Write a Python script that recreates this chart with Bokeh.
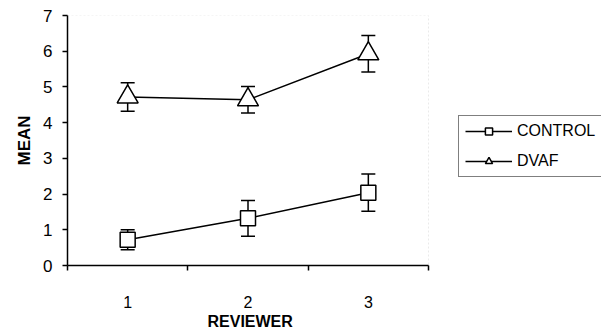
from bokeh.plotting import figure
from bokeh.models import (ColumnDataSource, Range1d, FixedTicker, Whisker, TeeHead,
                          Legend, LegendItem, BoxAnnotation, Title)
from bokeh.embed import file_html
from bokeh.resources import INLINE

reviewers = [1, 2, 3]
tick_labels = {1: "1", 2: "2", 3: "3"}
control_mean = [0.72, 1.32, 2.04]
control_err = [0.28, 0.50, 0.52]
dvaf_mean = [4.72, 4.64, 5.93]
dvaf_err = [0.40, 0.37, 0.51]

FONT = "Liberation Sans"

# plot area spans 0.5..3.5 over 361 px; frame extends right to hold the legend
px_per_unit = 361 / 3.0
x_end = 0.5 + (601 - 67) / px_per_unit

p = figure(width=601, height=333, output_backend="svg", toolbar_location=None,
           x_range=Range1d(0.5, x_end), y_range=Range1d(0, 7),
           min_border_left=67, min_border_right=0, min_border_top=15,
           min_border_bottom=68)
p.background_fill_color = "white"
p.border_fill_color = "white"
p.outline_line_color = None
p.xgrid.visible = False
p.ygrid.visible = False

box = BoxAnnotation(left=0.5, right=3.5, bottom=0, top=7, fill_alpha=0,
                    line_color="#b8b8b8", line_dash="2 2", line_width=1,
                    level="underlay")
p.add_layout(box)

# x axis
xa = p.xaxis[0]
xa.bounds = (0.5, 3.5)
xa.ticker = FixedTicker(ticks=reviewers, minor_ticks=[0.5, 1.5, 2.5, 3.5])
xa.major_label_overrides = tick_labels
xa.major_tick_out = 0
xa.major_tick_in = 0
xa.minor_tick_out = 5
xa.minor_tick_in = 0
xa.minor_tick_line_color = "black"
xa.minor_tick_line_width = 1.5
xa.axis_line_color = "black"
xa.axis_line_width = 1.5
xa.major_label_standoff = 25
xa.major_label_text_font = FONT
xa.major_label_text_font_size = "16px"
xa.major_label_text_color = "black"

xtitle = Title(text="REVIEWER", align="left", offset=140,
               text_font=FONT, text_font_style="bold", text_font_size="16px",
               text_color="black", standoff=0)
p.add_layout(xtitle, "below")

# y axis
ya = p.yaxis[0]
ya.ticker = FixedTicker(ticks=[0, 1, 2, 3, 4, 5, 6, 7], minor_ticks=[])
ya.major_tick_out = 5
ya.major_tick_in = 0
ya.major_tick_line_width = 1.5
ya.major_tick_line_color = "black"
ya.axis_line_color = "black"
ya.axis_line_width = 1.5
ya.major_label_standoff = 10
ya.major_label_text_font = FONT
ya.major_label_text_font_size = "17px"
ya.major_label_text_color = "black"
ya.axis_label = "MEAN"
ya.axis_label_text_font = FONT
ya.axis_label_text_font_style = "bold"
ya.axis_label_text_font_size = "17px"
ya.axis_label_standoff = 6
ya.axis_label_text_color = "black"

src_c = ColumnDataSource(dict(x=reviewers, y=control_mean,
                              lo=[m - e for m, e in zip(control_mean, control_err)],
                              hi=[m + e for m, e in zip(control_mean, control_err)]))
src_d = ColumnDataSource(dict(x=reviewers, y=dvaf_mean,
                              lo=[m - e for m, e in zip(dvaf_mean, dvaf_err)],
                              hi=[m + e for m, e in zip(dvaf_mean, dvaf_err)]))

for src in (src_c, src_d):
    w = Whisker(source=src, base="x", lower="lo", upper="hi",
                line_color="black", line_width=1.5, level="underlay",
                upper_head=TeeHead(size=14, line_color="black", line_width=1.5),
                lower_head=TeeHead(size=14, line_color="black", line_width=1.5))
    p.add_layout(w)

lc = p.line("x", "y", source=src_c, line_color="black", line_width=1.5)
ld = p.line("x", "y", source=src_d, line_color="black", line_width=1.5)
mc = p.scatter("x", "y", source=src_c, marker="square", size=15,
               fill_color="white", line_color="black", line_width=1.5)
md = p.scatter("x", "y", source=src_d, marker="triangle", size=21,
               fill_color="white", line_color="black", line_width=1.5)

legend = Legend(items=[LegendItem(label="CONTROL", renderers=[lc, mc]),
                       LegendItem(label="DVAF", renderers=[ld, md])],
                location=(391, 88))
legend.border_line_color = "black"
legend.border_line_width = 1.5
legend.background_fill_color = "white"
legend.background_fill_alpha = 1
legend.label_text_font = FONT
legend.label_text_font_size = "16px"
legend.label_text_color = "black"
legend.glyph_width = 47
legend.glyph_height = 18
legend.label_height = 18
legend.label_standoff = 5
legend.spacing = 12
legend.padding = 6
legend.margin = 0
p.add_layout(legend, "center")

open("out.html", "w").write(file_html(p, INLINE))
